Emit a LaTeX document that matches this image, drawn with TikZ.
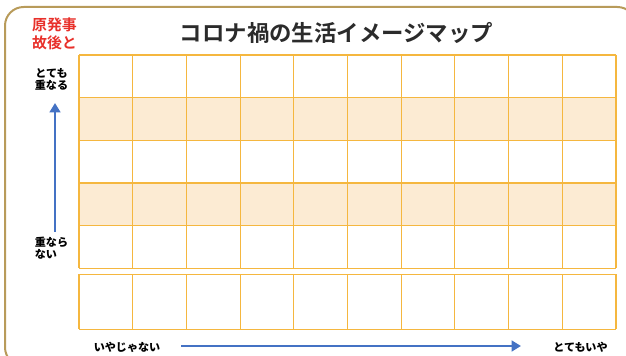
\documentclass[tikz,border=0pt]{standalone}
\usepackage{fontspec}
\newfontfamily\jp{Noto Sans CJK JP}[BoldFont={Noto Sans CJK JP Bold}]
\newfontfamily\jpblk{Noto Sans CJK JP Black}
\usetikzlibrary{arrows.meta}
\definecolor{framec}{HTML}{B89B5A}
\definecolor{gridc}{HTML}{F5B73F}
\definecolor{rowfill}{HTML}{FCEBD3}
\definecolor{redt}{HTML}{E8302A}
\definecolor{titlec}{HTML}{2B2B2B}
\definecolor{arrowc}{HTML}{4472C4}
\tikzset{
  lbl/.style={font=\jpblk\fontsize{8.3}{9}\selectfont, text=black, align=center, inner sep=0pt},
  bluearrow/.style={draw=arrowc, line width=2.2pt, -{Triangle[length=7pt,width=8pt]}},
  gridline/.style={draw=gridc, line width=0.8pt}
}
\begin{document}
\begin{tikzpicture}[x=0.75pt,y=-0.75pt]
\useasboundingbox (0,0) rectangle (626,356);
\begin{scope}
\clip (0,0) rectangle (626,356);
\draw[draw=framec, line width=1.5pt, rounded corners=14pt] (5,7) rectangle (636,366);
\end{scope}
% shaded rows
\fill[fill=rowfill] (79,97.7) rectangle (616,140.3);
\fill[fill=rowfill] (79,183) rectangle (616,225.7);
% upper grid
\foreach \i in {0,...,10} {
  \draw[gridline] ({79+53.7*\i},55) -- ({79+53.7*\i},268.3);
}
\foreach \j in {0,...,5} {
  \draw[gridline] (79,{55+42.66*\j}) -- (616,{55+42.66*\j});
}
% lower grid
\foreach \i in {0,...,10} {
  \draw[gridline] ({79+53.7*\i},274.3) -- ({79+53.7*\i},329.3);
}
\draw[gridline] (79,274.3) -- (616,274.3);
\draw[gridline] (79,329.3) -- (616,329.3);
% texts
\node[font=\jp\bfseries\fontsize{11.2}{13.9}\selectfont, text=redt, align=left, inner sep=0pt] (red) at (54.5,34) {原発事\\故後と};
\node[font=\jp\bfseries\fontsize{16.8}{20}\selectfont, text=titlec, inner sep=0pt] (title) at (336.5,33) {コロナ禍の生活イメージマップ};
\node[lbl] (top) at (51.5,79) {とても\\重なる};
\node[lbl, align=left] (bot) at (51.5,248.5) {重なら\\ない};
\node[lbl] (left) at (127,347) {いやじゃない};
\node[lbl] (right) at (580.5,347) {とてもいや};
% arrows
\coordinate (vs) at (55,232);
\coordinate (ve) at (55,103);
\coordinate (hs) at (181,346);
\coordinate (he) at (521,346);
\draw[bluearrow] (vs) -- (ve);
\draw[bluearrow] (hs) -- (he);
\end{tikzpicture}
\end{document}
